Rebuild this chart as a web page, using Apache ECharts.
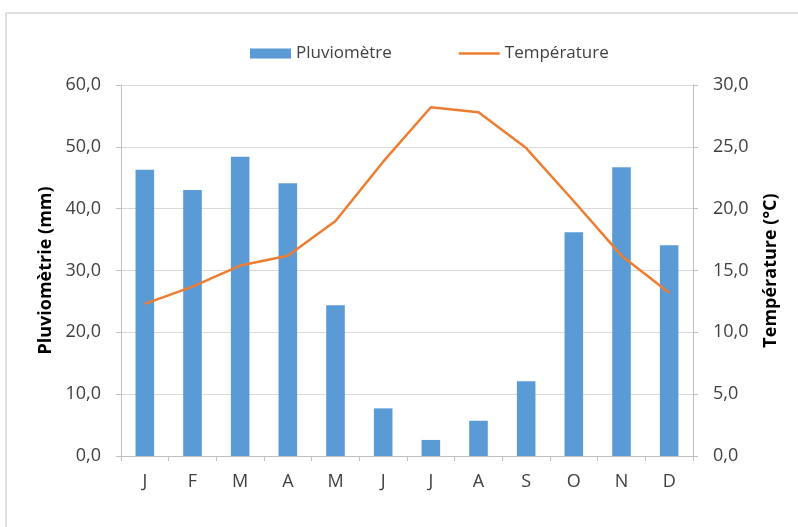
<!DOCTYPE html>
<html>
<head>
<meta charset="utf-8">
<script src="https://cdn.jsdelivr.net/npm/echarts@6/dist/echarts.min.js"></script>
<style>
html,body{margin:0;padding:0;background:#fff;}
#chart{width:798px;height:527px;}
</style>
</head>
<body>
<div id="chart"></div>
<script>
const months = ['J','F','M','A','M','J','J','A','S','O','N','D'];
const rainfall = [46.3, 43.0, 48.4, 44.1, 24.4, 7.7, 2.6, 5.7, 12.1, 36.2, 46.7, 34.1];
const temperature = [12.3, 13.7, 15.4, 16.2, 19.0, 23.8, 28.2, 27.8, 24.9, 20.6, 16.2, 13.2];
const rainTicks = {min: 0, max: 60, interval: 10};
const tempTicks = {min: 0, max: 30, interval: 5};

const FONT = 'Open Sans';
const fmt = v => v.toFixed(1).replace('.', ',');

const chart = echarts.init(document.getElementById('chart'), null, {renderer: 'canvas'});
chart.setOption({
  animation: false,
  backgroundColor: '#fff',
  textStyle: {fontFamily: FONT},
  graphic: [{
    type: 'rect',
    shape: {x: 6, y: 13, width: 820, height: 540},
    style: {fill: 'none', stroke: '#BFBFBF', lineWidth: 1},
    silent: true
  }],
  legend: {
    top: 40,
    left: 245,
    itemGap: 67,
    itemWidth: 41,
    itemHeight: 10,
    textStyle: {fontFamily: FONT, fontSize: 17, color: '#404040'},
    data: [
      {name: 'Pluviomètre', icon: 'rect'},
      {name: 'Température', icon: 'path://M0,0 L40,0 L40,2.5 L0,2.5 Z'}
    ]
  },
  grid: {left: 121, right: 105, top: 85, bottom: 71},
  xAxis: {
    type: 'category',
    data: months,
    boundaryGap: true,
    axisLine: {lineStyle: {color: '#BFBFBF', width: 1}},
    axisTick: {show: true, length: 5, lineStyle: {color: '#BFBFBF'}},
    axisLabel: {color: '#404040', fontSize: 18, fontFamily: FONT, margin: 17}
  },
  yAxis: [{
    type: 'value',
    min: rainTicks.min, max: rainTicks.max, interval: rainTicks.interval,
    name: 'Pluviomètrie (mm)',
    nameLocation: 'middle',
    nameGap: 66,
    nameTextStyle: {fontFamily: FONT, fontSize: 18, fontWeight: 'bold', color: '#000'},
    axisLine: {show: true, lineStyle: {color: '#BFBFBF'}},
    axisTick: {show: true, length: 5, lineStyle: {color: '#BFBFBF'}},
    axisLabel: {color: '#404040', fontSize: 18, fontFamily: FONT, margin: 20, formatter: fmt},
    splitLine: {lineStyle: {color: '#D9D9D9', width: 1}}
  }, {
    type: 'value',
    min: tempTicks.min, max: tempTicks.max, interval: tempTicks.interval,
    name: 'Température (°C)',
    nameLocation: 'middle',
    nameGap: 69,
    nameTextStyle: {fontFamily: FONT, fontSize: 18, fontWeight: 'bold', color: '#000'},
    axisLine: {show: true, lineStyle: {color: '#BFBFBF'}},
    axisTick: {show: true, length: 5, lineStyle: {color: '#BFBFBF'}},
    axisLabel: {color: '#404040', fontSize: 18, fontFamily: FONT, margin: 20, formatter: fmt},
    splitLine: {show: false}
  }],
  series: [{
    name: 'Pluviomètre',
    type: 'bar',
    yAxisIndex: 0,
    data: rainfall,
    barWidth: '39%',
    itemStyle: {color: '#5B9BD5'}
  }, {
    name: 'Température',
    type: 'line',
    yAxisIndex: 1,
    data: temperature,
    showSymbol: false,
    symbol: 'none',
    lineStyle: {color: '#ED7D31', width: 2.5},
    itemStyle: {color: '#ED7D31'}
  }]
});
</script>
</body>
</html>
